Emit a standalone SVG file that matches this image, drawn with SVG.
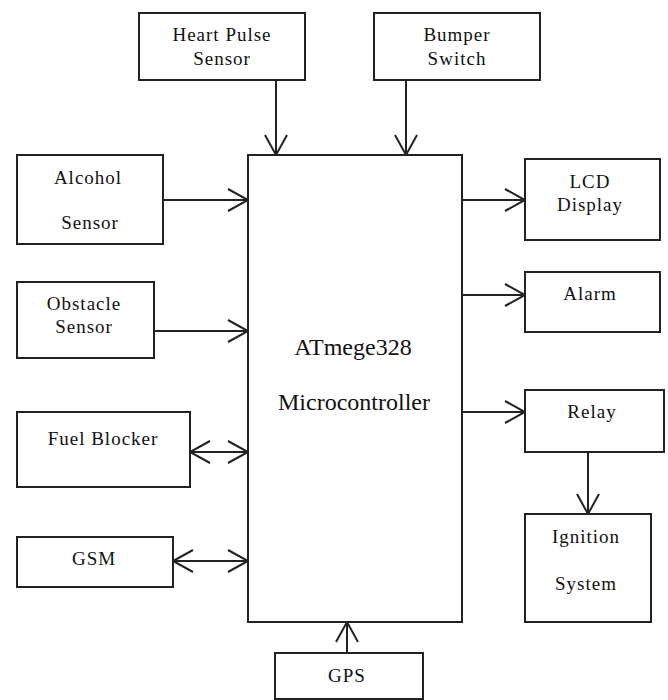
<svg xmlns="http://www.w3.org/2000/svg" width="668" height="700" viewBox="0 0 668 700">
<style>
.box{fill:#fff;stroke:#222;stroke-width:2}
.lbl{font-family:"Liberation Serif","Times New Roman",serif;font-size:19px;letter-spacing:1px;fill:#111;text-anchor:middle}
.big{font-family:"Liberation Serif","Times New Roman",serif;font-size:24px;fill:#111;text-anchor:middle}
.ln{fill:none;stroke:#222;stroke-width:2}
</style>
<rect width="668" height="700" fill="#fff"/>
<g id="connectors" class="ln">
<path d="M276,80V155M265,135L276,155L287,135"/>
<path d="M406,80V155M395,135L406,155L417,135"/>
<path d="M163,200H248M228,189L248,200L228,211"/>
<path d="M154,331H248M228,320L248,331L228,342"/>
<path d="M190,452H248M228,441L248,452L228,463M210,441L190,452L210,463"/>
<path d="M173,561H248M228,550L248,561L228,572M193,550L173,561L193,572"/>
<path d="M347,653V622M336,642L347,622L358,642"/>
<path d="M462,200H525M505,189L525,200L505,211"/>
<path d="M462,295H525M505,284L525,295L505,306"/>
<path d="M462,412H525M505,401L525,412L505,423"/>
<path d="M588,452V514M577,494L588,514L599,494"/>
</g>
<g id="heart"><rect class="box" x="139" y="13" width="166" height="67"/><text class="lbl" x="222" y="41">Heart Pulse</text><text class="lbl" x="222" y="65">Sensor</text></g>
<g id="bumper"><rect class="box" x="374" y="13" width="166" height="67"/><text class="lbl" x="457" y="41">Bumper</text><text class="lbl" x="457" y="65">Switch</text></g>
<g id="mcu"><rect class="box" x="248" y="155" width="214" height="467"/><text class="big" x="353" y="355">ATmege328</text><text class="big" x="354" y="410">Microcontroller</text></g>
<g id="alcohol"><rect class="box" x="17" y="155" width="146" height="89"/><text class="lbl" x="88" y="184">Alcohol</text><text class="lbl" x="90" y="229">Sensor</text></g>
<g id="obstacle"><rect class="box" x="17" y="282" width="137" height="76"/><text class="lbl" x="84" y="310">Obstacle</text><text class="lbl" x="84" y="333">Sensor</text></g>
<g id="fuel"><rect class="box" x="17" y="412" width="173" height="75"/><text class="lbl" x="103" y="445">Fuel Blocker</text></g>
<g id="gsm"><rect class="box" x="17" y="537" width="156" height="50"/><text class="lbl" x="94" y="565">GSM</text></g>
<g id="gps"><rect class="box" x="275" y="653" width="148" height="46"/><text class="lbl" x="347" y="682">GPS</text></g>
<g id="lcd"><rect class="box" x="525" y="159" width="135" height="81"/><text class="lbl" x="590" y="188">LCD</text><text class="lbl" x="590" y="211">Display</text></g>
<g id="alarm"><rect class="box" x="525" y="272" width="135" height="60"/><text class="lbl" x="590" y="300">Alarm</text></g>
<g id="relay"><rect class="box" x="525" y="390" width="139" height="62"/><text class="lbl" x="592" y="418">Relay</text></g>
<g id="ignition"><rect class="box" x="525" y="514" width="126" height="108"/><text class="lbl" x="586" y="543">Ignition</text><text class="lbl" x="586" y="590">System</text></g>
</svg>
